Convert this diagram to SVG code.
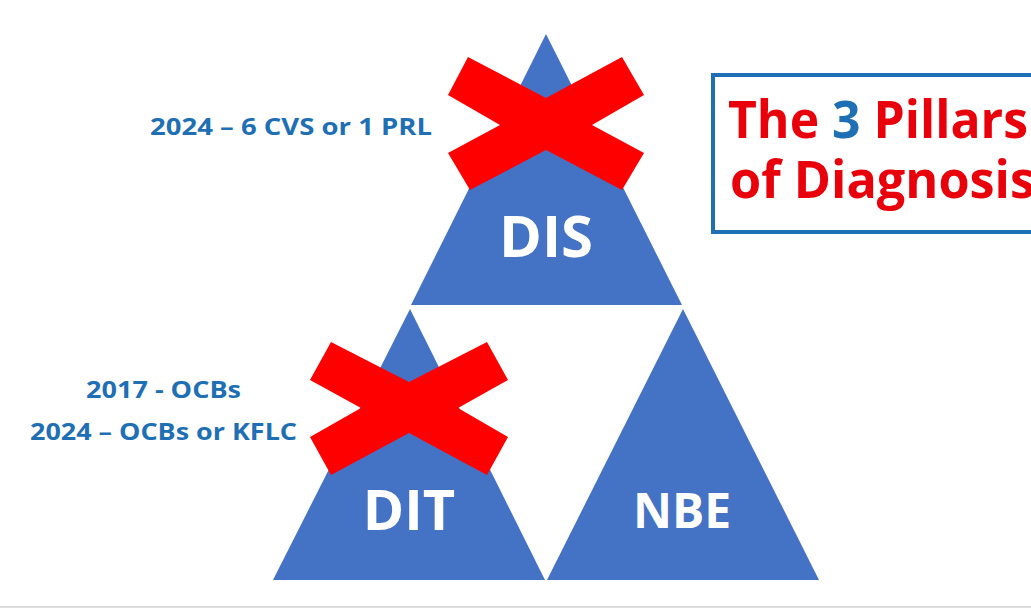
<svg xmlns="http://www.w3.org/2000/svg" width="1031" height="609" viewBox="0 0 1031 609">
<style>
.tri{fill:#4472c4}
.x{fill:#ff0000}
.w{fill:#fff;font-family:"Open Sans","Liberation Sans",sans-serif;font-weight:bold;text-anchor:middle}
.lbl{fill:#1f6fb5;font-family:"Open Sans","Liberation Sans",sans-serif;font-weight:bold;font-size:24px}
.t{font-family:"Open Sans","Liberation Sans",sans-serif;font-weight:bold;font-size:52px;fill:#e8000b}
</style>
<rect width="1031" height="609" fill="#fff"/>
<line x1="0" y1="607" x2="1031" y2="607" stroke="#ddd" stroke-width="2"/>
<g id="dis">
<polygon class="tri" points="546,34 682,305 411,305"/>
<polygon class="x" points="468,57 546,98 622,57 644,95 592,125 644,153 622,190 546,150 470,190 448,153 500,125 448,95"/>
<text class="w" x="546" y="257" font-size="58">DIS</text>
</g>
<g id="dit">
<polygon class="tri" points="410,309 545,580 273,580"/>
<polygon class="x" points="331,342 409,382 487,342 508,380 458,408 508,437 487,475 409,433 331,475 310,437 361,408 310,380"/>
<text class="w" x="409" y="530" font-size="56">DIT</text>
</g>
<g id="nbe">
<polygon class="tri" points="683,309 819,580 547,580"/>
<text class="w" x="682" y="528" font-size="48">NBE</text>
</g>
<g id="labels">
<text class="lbl" x="150" y="135" textLength="282" lengthAdjust="spacingAndGlyphs">2024 – 6 CVS or 1 PRL</text>
<text class="lbl" x="86" y="398" textLength="155" lengthAdjust="spacingAndGlyphs">2017 - OCBs</text>
<text class="lbl" x="30" y="440" textLength="267" lengthAdjust="spacingAndGlyphs">2024 – OCBs or KFLC</text>
</g>
<g id="title">
<rect x="713" y="75" width="330" height="157" fill="#fff" stroke="#1f6fb5" stroke-width="4"/>
<text class="t" x="728" y="138" textLength="300" lengthAdjust="spacingAndGlyphs">The <tspan fill="#1f6fb5">3</tspan> Pillars</text>
<text class="t" x="730" y="198" textLength="305" lengthAdjust="spacingAndGlyphs">of Diagnosis</text>
</g>
</svg>
